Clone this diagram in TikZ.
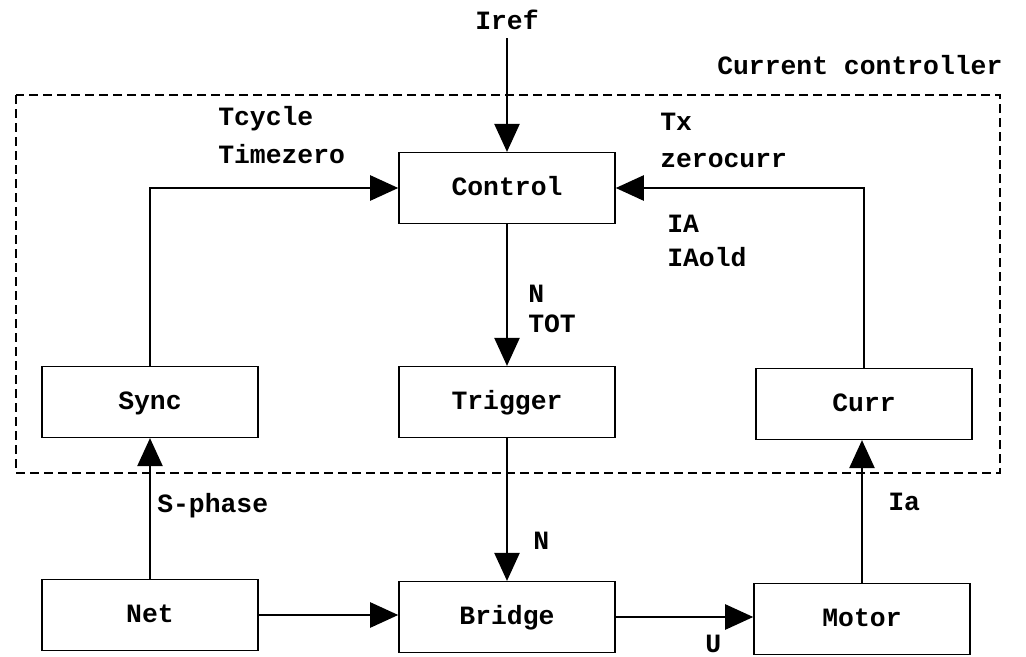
\documentclass[tikz,border=0pt]{standalone}
\usepackage{fontspec}
\newfontfamily\cour{Liberation Mono}
\usetikzlibrary{arrows.meta}
\begin{document}
\begin{tikzpicture}[x=0.75pt,y=-0.75pt,
  txt/.style={font=\cour\bfseries\fontsize{19.8}{24}\selectfont, inner sep=0pt, text height=11pt, text depth=0pt},
  blk/.style={txt, draw, line width=1.2pt, minimum width=162pt, minimum height=53pt},
  lbl/.style={txt, anchor=west},
  arr/.style={line width=1pt, -{Triangle[length=21pt,width=19pt]}},
  frame/.style={line width=0.9pt, dash pattern=on 7pt off 3.5pt}]
\useasboundingbox (0,0) rectangle (1026,657);
% frame
\draw[frame] (16,95) rectangle (1000,473);
% blocks
\node[blk] (ctrl) at (507,188) {Control};
\node[blk] (sync) at (150,402) {Sync};
\node[blk] (trig) at (507,402) {Trigger};
\node[blk] (curr) at (864,404) {Curr};
\node[blk] (net) at (150,615) {Net};
\node[blk] (brdg) at (507,617) {Bridge};
\node[blk] (motr) at (862,619) {Motor};
% texts
\node[txt] (iref) at (507,22) {Iref};
\node[lbl] (cc) at (717,67) {Current controller};
\node[lbl] (tcy) at (218,118) {Tcycle};
\node[lbl] (tz) at (218,156) {Timezero};
\node[lbl] (tx) at (660,123) {Tx};
\node[lbl] (zc) at (660,160) {zerocurr};
\node[lbl] (ia1) at (667,225) {IA};
\node[lbl] (iao) at (667,259) {IAold};
\node[lbl] (n1) at (528,295) {N};
\node[lbl] (tot) at (528,325) {TOT};
\node[lbl] (sph) at (157,505) {S-phase};
\node[lbl] (n2) at (533,542) {N};
\node[lbl] (ia2) at (888,503) {Ia};
\node[lbl] (u) at (705,645) {U};
% connectors
\coordinate (irefin) at (507,38);
\draw[arr] (irefin) -- (ctrl);
\draw[arr] (sync.north) |- (ctrl.west);
\draw[arr] (curr.north) |- (ctrl.east);
\draw[arr] (ctrl) -- (trig);
\draw[arr] (trig) -- (brdg);
\draw[arr] (net) -- (sync);
\draw[arr] (motr.north) -- (motr.north |- curr.south);
\draw[arr] (net.east) -- (net.east -| brdg.west);
\draw[arr] (brdg.east) -- (brdg.east -| motr.west);
\end{tikzpicture}
\end{document}
